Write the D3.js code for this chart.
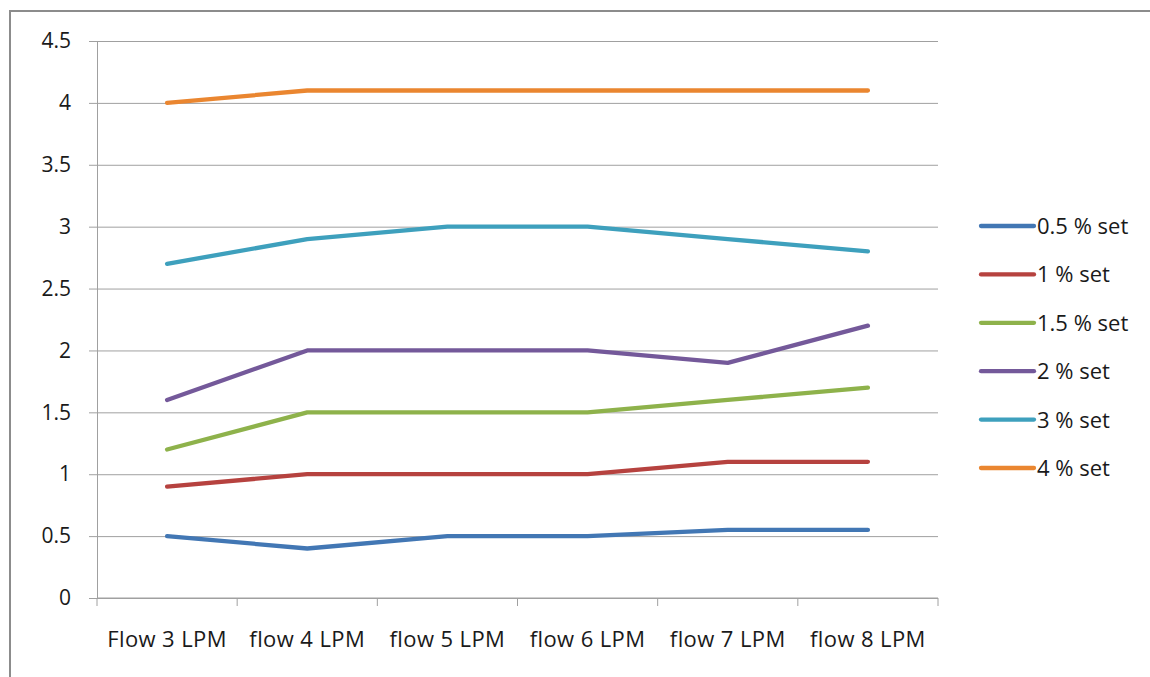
<!DOCTYPE html>
<html>
<head>
<meta charset="utf-8">
<script src="https://cdn.jsdelivr.net/npm/d3@7"></script>
<style>
  html, body { margin: 0; padding: 0; background: #fff; }
  svg { display: block; }
  text { font-family: "Open Sans", "Noto Sans", sans-serif; fill: #1a1a1a; }
</style>
</head>
<body>
<svg id="chart" width="1150" height="677"></svg>
<script>
// Flow rate categories and readings for each set percentage
const categories = ["Flow 3 LPM", "flow 4 LPM", "flow 5 LPM", "flow 6 LPM", "flow 7 LPM", "flow 8 LPM"];
const seriesNames = ["0.5 % set", "1 % set", "1.5 % set", "2 % set", "3 % set", "4 % set"];
const set05 = [0.5, 0.4, 0.5, 0.5, 0.55, 0.55];
const set1  = [0.9, 1.0, 1.0, 1.0, 1.1, 1.1];
const set15 = [1.2, 1.5, 1.5, 1.5, 1.6, 1.7];
const set2  = [1.6, 2.0, 2.0, 2.0, 1.9, 2.2];
const set3  = [2.7, 2.9, 3.0, 3.0, 2.9, 2.8];
const set4  = [4.0, 4.1, 4.1, 4.1, 4.1, 4.1];
const yTicks = [0, 0.5, 1, 1.5, 2, 2.5, 3, 3.5, 4, 4.5];
const colors = ["#4277b4", "#b6423f", "#8eb24b", "#74599a", "#3ea0bd", "#ea8630"];

const series = [set05, set1, set15, set2, set3, set4].map((v, i) => ({ name: seriesNames[i], values: v, color: colors[i] }));

const svg = d3.select("#chart");
const fontSize = 21;

// outer frame
svg.append("rect")
  .attr("x", 10).attr("y", 11).attr("width", 1160).attr("height", 700)
  .attr("fill", "none").attr("stroke", "#8c8c8c").attr("stroke-width", 2);

const plot = { left: 97, right: 938, top: 41, bottom: 598 };

const x = d3.scaleBand().domain(categories).range([plot.left, plot.right]);
const y = d3.scaleLinear().domain([0, 4.5]).range([plot.bottom, plot.top]);

// horizontal gridlines with left tick stubs
const yAxis = d3.axisLeft(y).tickValues(yTicks)
  .tickSize(-(plot.right - plot.left)).tickSizeOuter(0).tickPadding(26)
  .tickFormat(d => String(d));
const gy = svg.append("g").attr("transform", `translate(${plot.left},0)`).call(yAxis);
gy.select(".domain").attr("stroke", "#a0a0a0");
gy.selectAll(".tick line").attr("stroke", "#a0a0a0").attr("x1", -8);
gy.selectAll(".tick text").attr("font-size", fontSize).attr("fill", "#1a1a1a")
  .attr("font-family", "'Open Sans', sans-serif");

// x axis with tick marks at category boundaries
const gx = svg.append("g").attr("transform", `translate(0,${plot.bottom})`);
gx.append("line").attr("x1", plot.left).attr("x2", plot.right)
  .attr("stroke", "#a0a0a0");
const bounds = categories.map(c => x(c)).concat([plot.right]);
gx.selectAll("line.tk").data(bounds).enter().append("line")
  .attr("class", "tk")
  .attr("x1", d => d).attr("x2", d => d).attr("y1", 0).attr("y2", 8)
  .attr("stroke", "#a0a0a0");
gx.selectAll("text").data(categories).enter().append("text")
  .attr("x", d => x(d) + x.bandwidth() / 2)
  .attr("y", 49)
  .attr("text-anchor", "middle")
  .attr("font-size", 22)
  .attr("letter-spacing", 0.4)
  .text(d => d);

// series lines
const line = d3.line()
  .x((d, i) => x(categories[i]) + x.bandwidth() / 2)
  .y(d => y(d));

svg.append("g").selectAll("path").data(series).enter().append("path")
  .attr("d", d => line(d.values))
  .attr("fill", "none")
  .attr("stroke", d => d.color)
  .attr("stroke-width", 4.3)
  .attr("stroke-linecap", "round")
  .attr("stroke-linejoin", "round");

// legend
const legend = svg.append("g").attr("transform", "translate(981,226)");
const rows = legend.selectAll("g").data(series).enter().append("g")
  .attr("transform", (d, i) => `translate(0,${i * 48.4})`);
rows.append("line")
  .attr("x1", 0).attr("x2", 53).attr("y1", 0).attr("y2", 0)
  .attr("stroke", d => d.color).attr("stroke-width", 4.3)
  .attr("stroke-linecap", "round");
rows.append("text")
  .attr("x", 56).attr("y", 8)
  .attr("font-size", 22)
  .text(d => d.name);
</script>
</body>
</html>
